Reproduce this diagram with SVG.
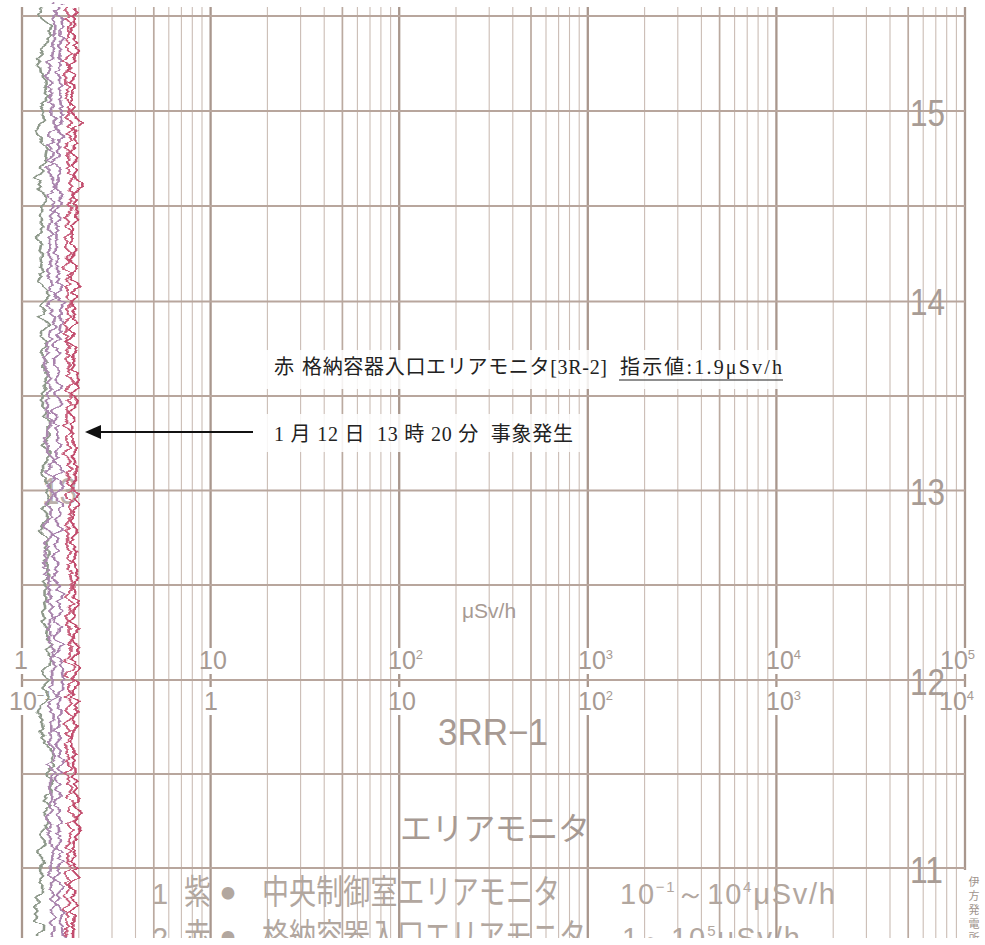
<svg xmlns="http://www.w3.org/2000/svg" width="985" height="945" viewBox="0 0 985 945">
<style>
.thin{stroke:#cbbdb5;stroke-width:1.1;fill:none}
.k5{stroke:#bbaaa0;stroke-width:1.7;fill:none}
.maj{stroke:#a9978d;stroke-width:2.3;fill:none}
.hz{stroke:#b8a69d;stroke-width:1.8;fill:none}
.sc{font-family:"Liberation Sans","Noto Sans",sans-serif;font-size:25px;fill:#a69a93}
.hr{font-family:"Liberation Sans","Noto Sans",sans-serif;font-size:37px;fill:#a89c95}
.big{font-family:"Liberation Sans","Noto Sans CJK JP",sans-serif;fill:#a79a93}
.lg{font-family:"Noto Sans CJK JP","Liberation Sans",sans-serif;font-size:27px;fill:#b2a79f}
.bul{font-family:"Noto Sans CJK JP","DejaVu Sans",sans-serif;font-size:14px;fill:#b2a79f}
.lgn{font-family:"Liberation Sans","Noto Sans",sans-serif;font-size:29px;fill:#b2a79f}
.ann{font-family:"Liberation Serif","Noto Sans CJK JP",serif;font-size:20px;fill:#222;white-space:pre}
.tr{fill:none;stroke-width:2.6;stroke-linejoin:round}
</style>
<defs>
<filter id="jA" filterUnits="userSpaceOnUse" x="0" y="0" width="130" height="945">
<feTurbulence type="fractalNoise" baseFrequency="0.015 0.1" numOctaves="3" seed="3" result="n"/>
<feDisplacementMap in="SourceGraphic" in2="n" scale="20" xChannelSelector="R" yChannelSelector="G"/>
</filter>
<filter id="jB" filterUnits="userSpaceOnUse" x="0" y="0" width="130" height="945">
<feTurbulence type="fractalNoise" baseFrequency="0.015 0.12" numOctaves="3" seed="11" result="n"/>
<feDisplacementMap in="SourceGraphic" in2="n" scale="18" xChannelSelector="R" yChannelSelector="G"/>
</filter>
<filter id="jC" filterUnits="userSpaceOnUse" x="0" y="0" width="130" height="945">
<feTurbulence type="fractalNoise" baseFrequency="0.015 0.11" numOctaves="3" seed="27" result="n"/>
<feDisplacementMap in="SourceGraphic" in2="n" scale="18" xChannelSelector="R" yChannelSelector="G"/>
</filter>
<filter id="jD" filterUnits="userSpaceOnUse" x="0" y="0" width="130" height="945">
<feTurbulence type="fractalNoise" baseFrequency="0.015 0.14" numOctaves="3" seed="41" result="n"/>
<feDisplacementMap in="SourceGraphic" in2="n" scale="18" xChannelSelector="R" yChannelSelector="G"/>
</filter>
<filter id="jE" filterUnits="userSpaceOnUse" x="0" y="0" width="130" height="945">
<feTurbulence type="fractalNoise" baseFrequency="0.015 0.13" numOctaves="3" seed="58" result="n"/>
<feDisplacementMap in="SourceGraphic" in2="n" scale="18" xChannelSelector="R" yChannelSelector="G"/>
</filter>
</defs>
<rect x="0" y="0" width="985" height="945" fill="#fff"/>

<g id="grid">
<path class="thin" d="M78.8 7V938M112 7V938M135.5 7V938M168.8 7V938M181.4 7V938M192.3 7V938M202 7V938M267.4 7V938M300.6 7V938M324.2 7V938M357.4 7V938M370 7V938M380.9 7V938M390.6 7V938M456 7V938M489.2 7V938M512.8 7V938M546 7V938M558.6 7V938M569.5 7V938M579.2 7V938M644.6 7V938M677.8 7V938M701.4 7V938M734.6 7V938M747.2 7V938M758.1 7V938M767.8 7V938M833.2 7V938M866.4 7V938M890 7V938M923.2 7V938M935.8 7V938M946.7 7V938M956.4 7V938"/>
<path class="k5" d="M153.8 7V938M342.4 7V938M531 7V938M719.6 7V938M908.2 7V938"/>
<path class="maj" d="M22 7V648M22 674V687M22 715V938M210.6 7V648M210.6 674V687M210.6 715V938M399.2 7V648M399.2 674V687M399.2 715V938M587.8 7V648M587.8 674V687M587.8 715V938M776.4 7V648M776.4 674V687M776.4 715V938M965 7V648M965 674V687M965 715V870"/>
<path class="hz" d="M22 16H965M22 111H965M22 206H965M22 301.5H965M22 396H965M22 490.5H965M22 585H965M22 680H965M22 774H965M22 868H965"/>
</g>

<g id="scale-labels">
<text class="sc" x="14" y="669">1</text>
<text class="sc" x="199" y="669">10</text>
<text class="sc" x="388" y="669">10<tspan font-size="13" dy="-10">2</tspan></text>
<text class="sc" x="578" y="669">10<tspan font-size="13" dy="-10">3</tspan></text>
<text class="sc" x="766" y="669">10<tspan font-size="13" dy="-10">4</tspan></text>
<text class="sc" x="940" y="669">10<tspan font-size="13" dy="-10">5</tspan></text>
<text class="sc" x="9" y="710">10<tspan font-size="13" dy="-10">−1</tspan></text>
<text class="sc" x="204" y="710">1</text>
<text class="sc" x="388" y="710">10</text>
<text class="sc" x="578" y="710">10<tspan font-size="13" dy="-10">2</tspan></text>
<text class="sc" x="766" y="710">10<tspan font-size="13" dy="-10">3</tspan></text>
<text class="sc" x="939" y="710">10<tspan font-size="13" dy="-10">4</tspan></text>
<text class="big" x="462" y="618" font-size="21">μSv/h</text>
<text class="big" x="438" y="745" font-size="37" textLength="110" lengthAdjust="spacingAndGlyphs">3RR−1</text>
<text class="big" x="400" y="840" font-size="32" textLength="190">エリアモニタ</text>
</g>

<g id="hour-labels">
<text class="hr" x="910" y="125.5" textLength="35" lengthAdjust="spacingAndGlyphs">15</text>
<text class="hr" x="910" y="315" textLength="35" lengthAdjust="spacingAndGlyphs">14</text>
<text class="hr" x="910" y="505" textLength="35" lengthAdjust="spacingAndGlyphs">13</text>
<text class="hr" x="910" y="695" textLength="35" lengthAdjust="spacingAndGlyphs">12</text>
<text class="hr" x="910" y="883" textLength="33" lengthAdjust="spacingAndGlyphs">11</text>
<text class="hr" x="42" y="504" textLength="35" lengthAdjust="spacingAndGlyphs" fill-opacity="0.8">13</text>
</g>

<g id="legend">
<text class="lgn" x="152" y="904">1</text>
<g transform="translate(0,904) scale(1,1.25)">
<text class="lg" x="184" y="0">紫</text>
<text class="lg" x="262" y="0" textLength="298">中央制御室エリアモニタ</text>
</g>
<text class="bul" x="221" y="898">●</text>
<text class="lgn" x="620" y="904" textLength="215">10<tspan font-size="15" dy="-12">−1</tspan><tspan dy="12">～10</tspan><tspan font-size="15" dy="-12">4</tspan><tspan dy="12">μSv/h</tspan></text>
<text class="lgn" x="152" y="948">2</text>
<g transform="translate(0,948) scale(1,1.25)">
<text class="lg" x="184" y="0">赤</text>
<text class="lg" x="262" y="0" textLength="324">格納容器入口エリアモニタ</text>
</g>
<text class="bul" x="221" y="942">●</text>
<text class="lgn" x="622" y="948" textLength="178">1～10<tspan font-size="15" dy="-12">5</tspan><tspan dy="12">μSv/h</tspan></text>
</g>

<g id="traces">
<path class="tr" stroke="#8f9a8c" filter="url(#jA)" d="M44 7L48 30L42 60L46 90L40 120L45 150L40 175L44 200L42 230L38 265L44 290L45 320L43 350L47 380L44 410L46 440L45 470L48 500L44 530L47 560L45 600L49 630L46 660L44 700L42 720L48 750L53 775L47 800L45 830L43 860L41 890L40 915L38 938"/>
<path class="tr" stroke="#aa88ae" filter="url(#jE)" d="M52 7L54 40L50 80L54 120L50 160L52 200L48 240L50 280L54 320L48 360L50 400L49 440L52 480L50 520L47 560L52 600L50 640L54 680L50 720L52 760L49 800L52 840L50 880L54 938"/>
<path class="tr" stroke="#a982ad" filter="url(#jB)" d="M60 7L62 40L58 80L62 120L57 160L60 200L55 240L58 280L62 320L55 360L58 400L56 440L60 480L58 520L55 560L60 600L57 640L62 680L58 720L60 760L56 800L60 840L58 880L62 938"/>
<path class="tr" stroke="#c9607d" filter="url(#jD)" d="M67 7L69 40L66 80L70 120L67 160L72 180L68 220L67 260L69 300L66 340L70 380L67 420L68 460L70 500L67 540L71 580L68 620L70 660L69 700L67 740L69 780L72 820L68 860L67 900L66 938"/>
<path class="tr" stroke="#c24d6d" filter="url(#jC)" d="M73 7L75 40L71 80L76 120L73 160L79 180L74 220L73 260L75 300L71 340L77 380L73 420L74 460L76 500L73 540L77 580L74 620L76 660L75 700L73 740L75 780L78 820L74 860L73 900L72 938"/>
</g>

<g id="annotation-1">
<rect x="266" y="350" width="526" height="39" fill="#fff" opacity="0.85"/>
<text class="ann" x="274" y="374">赤</text>
<text class="ann" x="302" y="374" textLength="305">格納容器入口エリアモニタ[3R-2]</text>
<text class="ann" x="620" y="374" textLength="162">指示値:1.9μSv/h</text>
<line x1="619" y1="380" x2="783" y2="380" stroke="#222" stroke-width="1.2"/>
</g>
<g id="annotation-2">
<rect x="266" y="414" width="316" height="38" fill="#fff" opacity="0.85"/>
<text class="ann" x="274" y="441" textLength="299">1 月 12 日  13 時 20 分  事象発生</text>
</g>

<g id="connectors">
<line x1="253" y1="432" x2="99" y2="432" stroke="#111" stroke-width="2"/>
<polygon points="85,432 101,425 101,439" fill="#111"/>
</g>

<rect x="0" y="938" width="985" height="7" fill="#fff"/>
<text x="974" y="876" font-family="Noto Sans CJK JP" font-size="11" fill="#a0948d" style="writing-mode:vertical-rl;letter-spacing:3px">伊方発電所</text>
<rect x="960" y="938" width="25" height="7" fill="#fff"/>
</svg>
